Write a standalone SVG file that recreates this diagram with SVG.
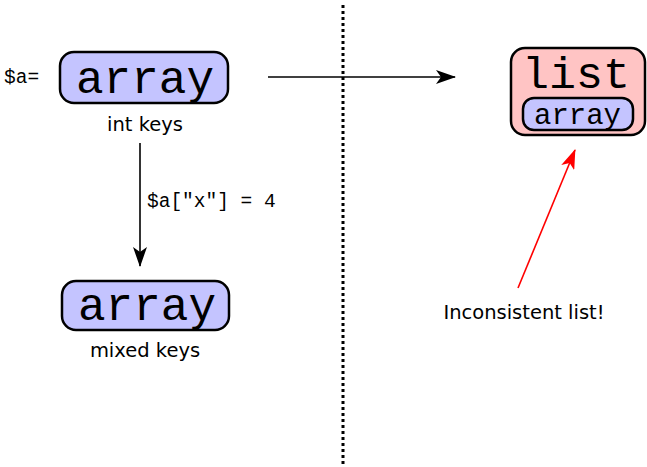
<svg xmlns="http://www.w3.org/2000/svg" width="647" height="467" viewBox="0 0 647 467">
<style>
.box{stroke:#000;stroke-width:2.5}
.blue{fill:#c4c4ff}
.pink{fill:#ffc4c4}
.big{font-family:"Liberation Mono","Courier New",monospace;font-size:46px;fill:#000}
.mono{font-family:"Liberation Mono","Courier New",monospace;font-size:19.5px;fill:#000}
.sans{font-family:"DejaVu Sans",sans-serif;font-size:19.5px;fill:#000;text-anchor:middle}
.conn{fill:none;stroke-width:1.6}
</style>
<defs>
<marker id="ah" viewBox="0 0 20 14" refX="19" refY="7" markerWidth="20" markerHeight="14" markerUnits="userSpaceOnUse" orient="auto">
<path d="M0,0 L20,7 L0,14 L5,7 Z" fill="#000"/>
</marker>
<marker id="ahr" viewBox="0 0 20 14" refX="19" refY="7" markerWidth="20" markerHeight="14" markerUnits="userSpaceOnUse" orient="auto">
<path d="M0,0 L20,7 L0,14 L5,7 Z" fill="#f00"/>
</marker>
</defs>
<line x1="343" y1="5" x2="343" y2="467" stroke="#000" stroke-width="3" stroke-dasharray="3,3"/>
<g id="connectors">
<line class="conn" x1="268" y1="77" x2="455" y2="77" stroke="#000" marker-end="url(#ah)"/>
<line class="conn" x1="140" y1="143" x2="140" y2="266" stroke="#000" marker-end="url(#ah)"/>
<line class="conn" x1="518" y1="288" x2="575" y2="150" stroke="#f00" marker-end="url(#ahr)"/>
</g>
<g id="label-a">
<text class="mono" x="4" y="83">$a=</text>
</g>
<g id="array-top">
<rect class="box blue" x="60" y="52" width="168" height="51" rx="14"/>
<text class="big" x="76" y="93">array</text>
<text class="sans" x="145" y="131">int keys</text>
</g>
<g id="label-assign">
<text class="mono" x="147" y="207">$a["x"] = 4</text>
</g>
<g id="array-bottom">
<rect class="box blue" x="62" y="281" width="167" height="49" rx="14"/>
<text class="big" x="78" y="320">array</text>
<text class="sans" x="145" y="357">mixed keys</text>
</g>
<g id="list">
<rect class="box pink" x="511" y="48" width="134" height="87" rx="14"/>
<text class="big" x="522" y="88" style="font-size:45px">list</text>
<rect class="box blue" x="523" y="98" width="110" height="32" rx="11"/>
<text class="big" x="534" y="124" style="font-size:29px">array</text>
</g>
<g id="label-inconsistent">
<text class="sans" x="524" y="319">Inconsistent list!</text>
</g>
</svg>
